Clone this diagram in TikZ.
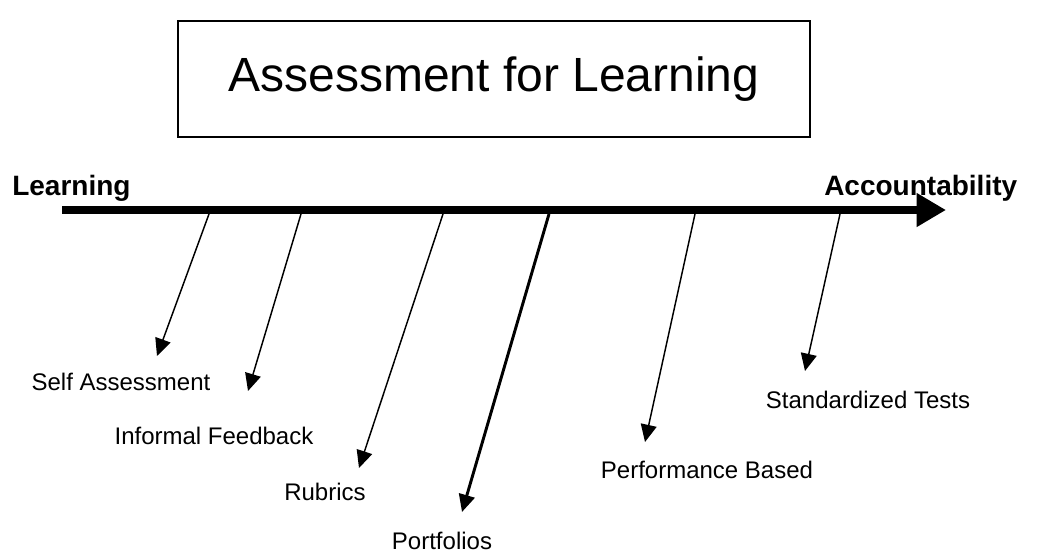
\documentclass[tikz,border=0pt]{standalone}
\usepackage{fontspec}
\setmainfont{Liberation Sans}
\usetikzlibrary{arrows.meta}
\begin{document}
\begin{tikzpicture}[x=0.75pt,y=-0.75pt]
  \tikzstyle{itemtext}=[font=\fontsize{18}{20}\selectfont, inner sep=0pt];
  \tikzstyle{endtext}=[font=\fontsize{21}{24}\selectfont\bfseries, inner sep=0pt];
  \tikzstyle{pointer}=[line width=1.1pt, -{Triangle[length=13pt,width=12pt]}];

  \useasboundingbox (0,0) rectangle (1043,554);

  % title
  \node[draw, line width=2.2pt, minimum width=474pt, minimum height=87pt,
        font=\fontsize{36}{40}\selectfont] (title) at (494,79) {Assessment for Learning};

  % the line from learning to accountability
  \coordinate (lstart) at (62,210);
  \coordinate (lend) at (946,210);
  \draw [line width=6pt, -{Triangle[length=22pt,width=24pt]}] (lstart) -- (lend);
  \node[endtext, anchor=west] (learn) at (12,188) {Learning};
  \node[endtext, anchor=west] (account) at (824,188) {Accountability};

  % kinds of assessment
  \node[itemtext] (self) at (121,382) {Self Assessment};
  \node[itemtext] (informal) at (214,436) {Informal Feedback};
  \node[itemtext] (rubrics) at (325,492) {Rubrics};
  \node[itemtext] (portfolio) at (442,541) {Portfolios};
  \node[itemtext] (perform) at (707,470) {Performance Based};
  \node[itemtext] (standard) at (868,400) {Standardized Tests};

  \coordinate (s1) at (209,214);
  \coordinate (s2) at (301,214);
  \coordinate (s3) at (443,214);
  \coordinate (s4) at (549,214);
  \coordinate (s5) at (695,214);
  \coordinate (s6) at (840,214);

  \coordinate (e1) at (157,356);
  \coordinate (e2) at (248,391);
  \coordinate (e3) at (359,468);
  \coordinate (e4) at (462,512);
  \coordinate (e5) at (645,442);
  \coordinate (e6) at (805,371);

  \draw [pointer] (s1) -- (e1);
  \draw [pointer] (s2) -- (e2);
  \draw [pointer] (s3) -- (e3);
  \draw [pointer, line width=2.2pt] (s4) -- (e4);
  \draw [pointer] (s5) -- (e5);
  \draw [pointer] (s6) -- (e6);

\end{tikzpicture}
\end{document}
